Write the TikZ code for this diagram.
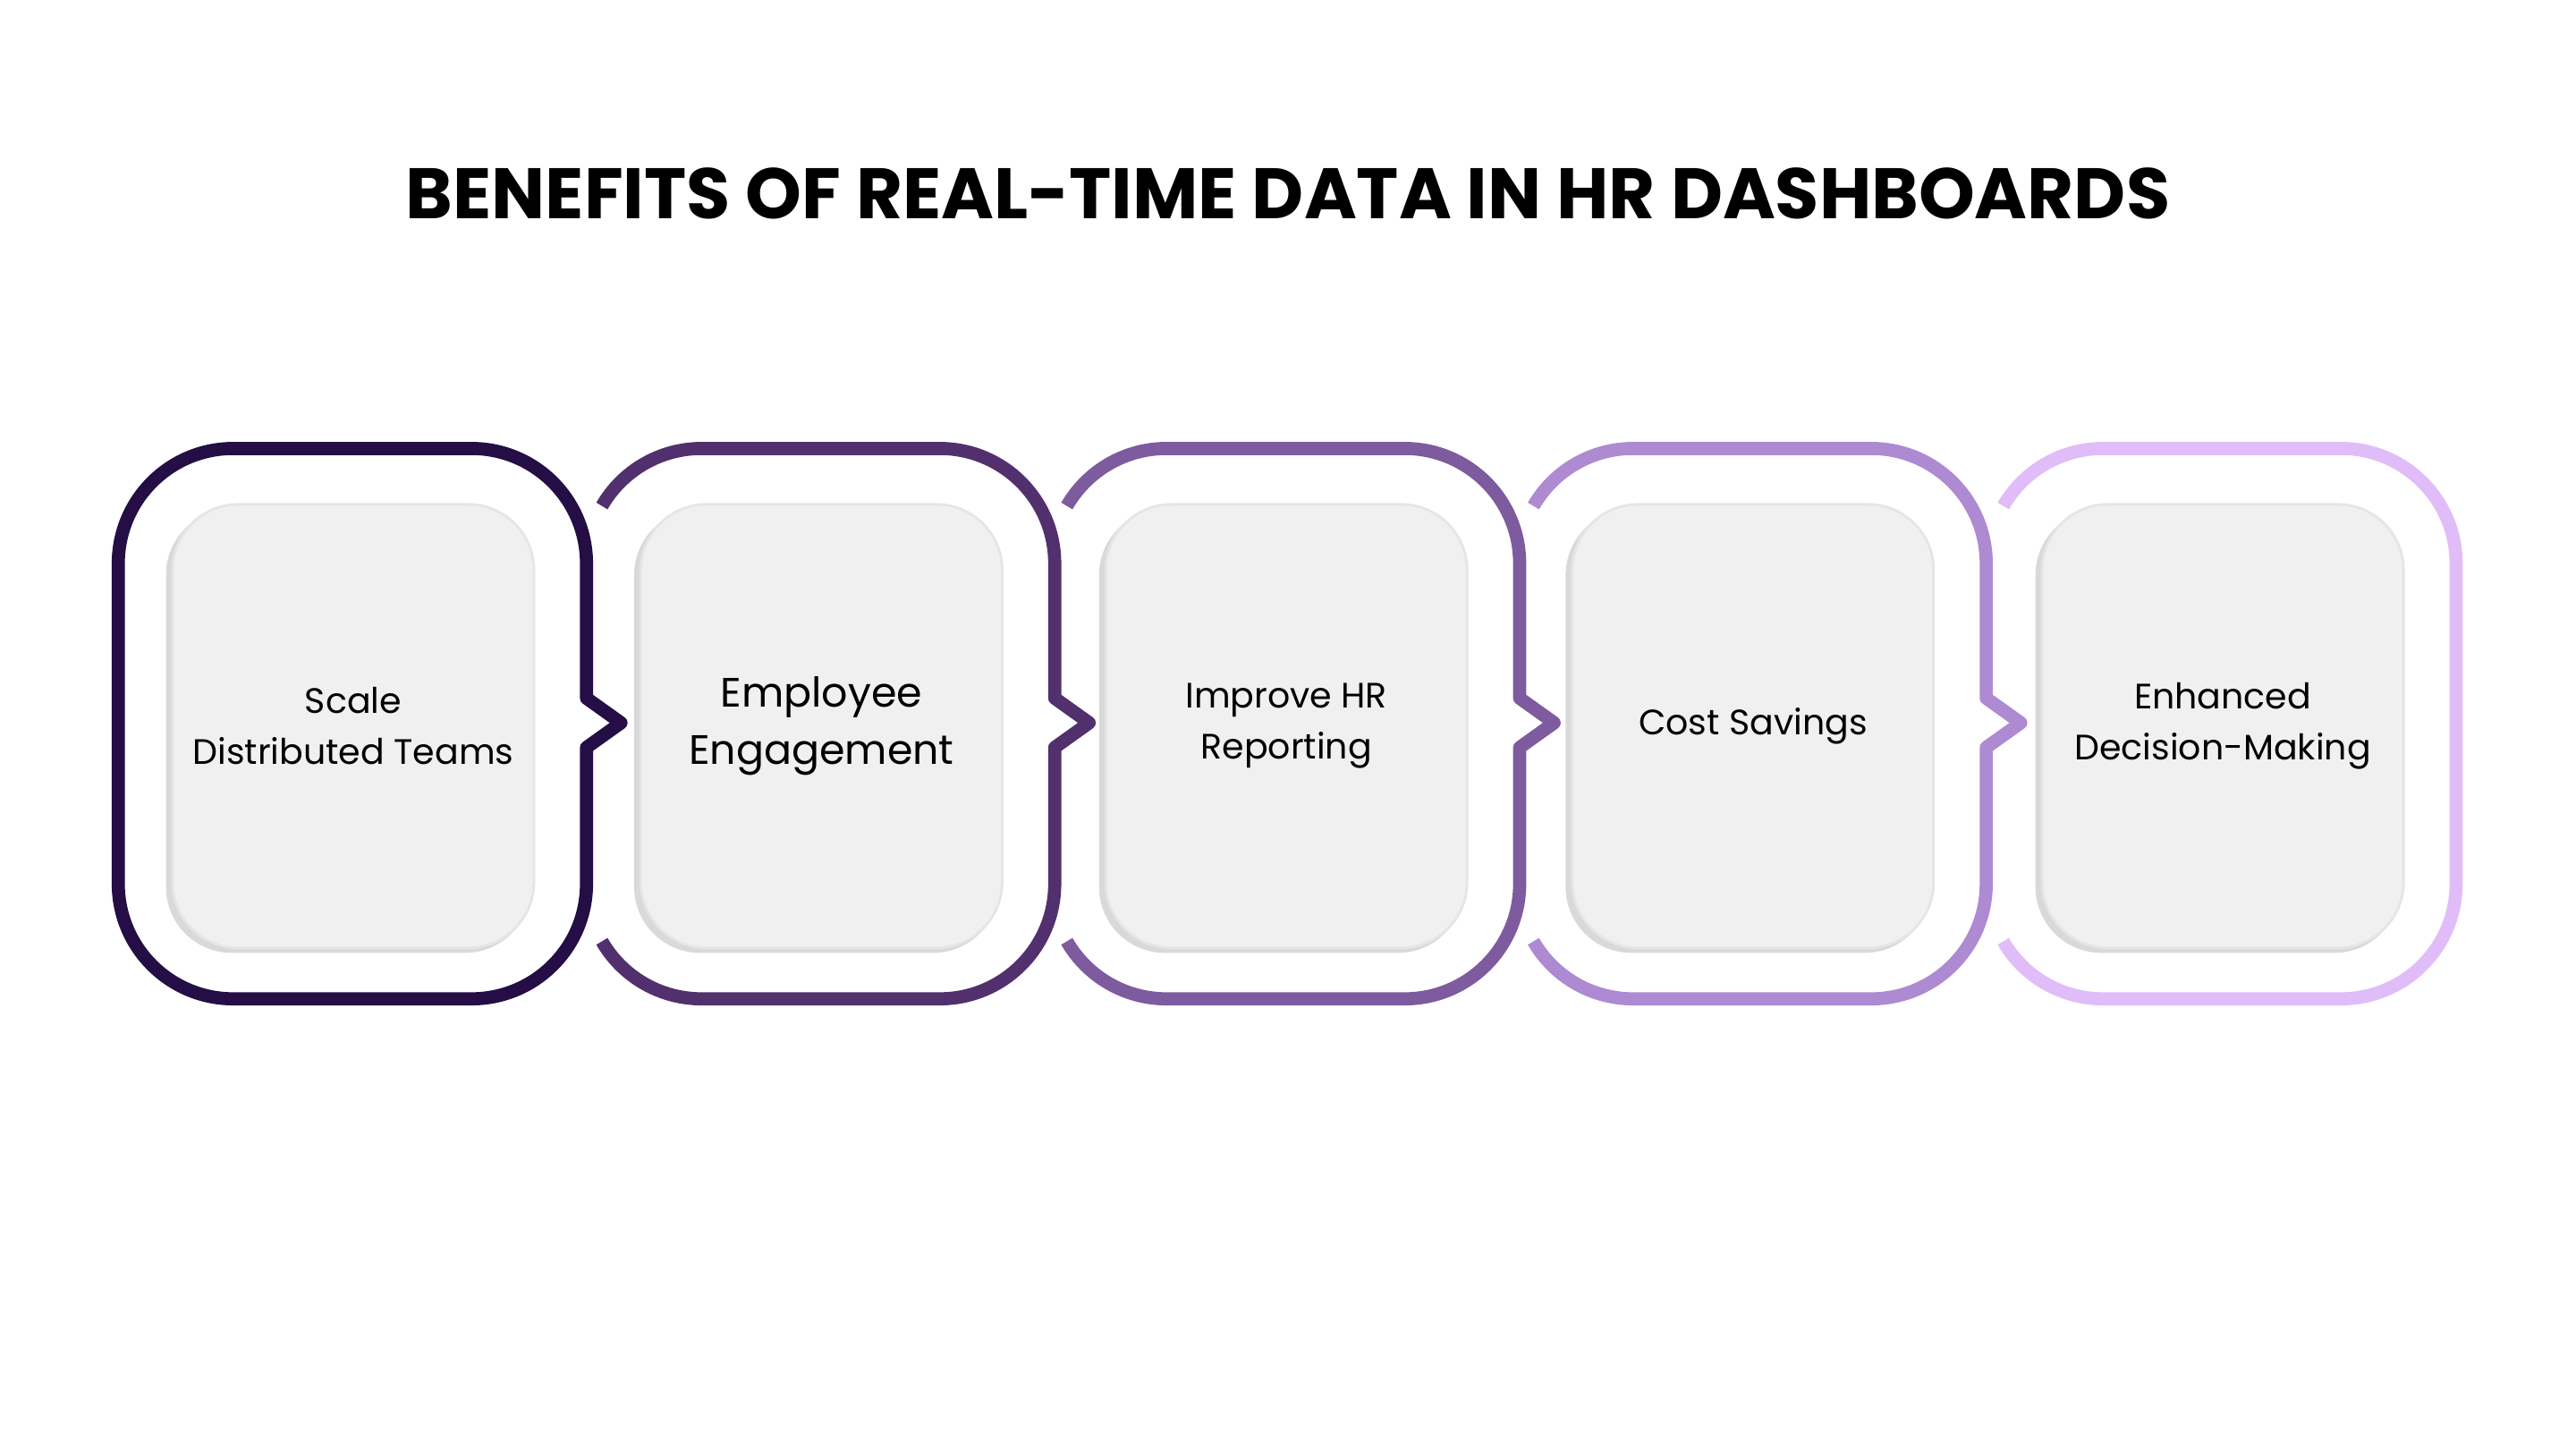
\documentclass[tikz,border=0pt]{standalone}
\usepackage{fontspec}
\setmainfont{Poppins}
\definecolor{c1}{HTML}{240E45}
\definecolor{c2}{HTML}{52306E}
\definecolor{c3}{HTML}{7E5A9E}
\definecolor{c4}{HTML}{AD8AD1}
\definecolor{c5}{HTML}{E0BDF9}
\definecolor{boxg}{HTML}{F0F0F0}
\begin{document}
\begin{tikzpicture}[x=1pt,y=1pt,
  frame/.style={line width=8pt,line join=round},
  inner/.style={fill=boxg,draw=black!10,line width=1.5pt,rounded corners=40pt},
  shad/.style={fill=black!15,rounded corners=40pt},
  lbl/.style={align=center,font=\fontsize{21.5}{31}\selectfont,text=black}]
\useasboundingbox (0,0) rectangle (1568,882);
\node[font=\fontsize{43.5}{48}\selectfont\bfseries] (title) at (784,764) {BENEFITS OF REAL-TIME DATA IN HR DASHBOARDS};
% frame 1
\draw[frame,c1] (72,539) arc[start angle=180,end angle=90,radius=70] -- (287,609) arc[start angle=90,end angle=0,radius=70] -- (357,457) -- (378,442) -- (357,427) -- (357,344) arc[start angle=0,end angle=-90,radius=70] -- (142,274) arc[start angle=270,end angle=180,radius=70] -- cycle;
\foreach \x/\c in {357/c2,640/c3,924/c4,1210/c5}{
  \pgfmathsetmacro{\xa}{\x+285}
  \draw[frame,\c] (\x+9.4,574) arc[start angle=150,end angle=90,radius=70] -- (\xa-70,609) arc[start angle=90,end angle=0,radius=70] -- (\xa,457)
   \ifnum\x<1200 -- (\xa+21,442) -- (\xa,427) \fi
   -- (\xa,344) arc[start angle=0,end angle=-90,radius=70] -- (\x+70,274) arc[start angle=270,end angle=210,radius=70];
}
\foreach \x/\n in {72/b1,357/b2,640/b3,924/b4,1210/b5}{
  \fill[shad] (\x+29,302) rectangle (\x+251,572);
  \path[inner] (\x+33,305) rectangle (\x+253,575);
  \coordinate (\n) at (\x+143,440);
}
\node[lbl] (t1) at (b1) {Scale\\Distributed Teams};
\node[lbl,font=\fontsize{25}{35}\selectfont] (t2) at (b2) {Employee\\Engagement};
\node[lbl] (t3) at (b3) {Improve HR\\Reporting};
\node[lbl] (t4) at (b4) {Cost Savings};
\node[lbl] (t5) at (b5) {Enhanced\\Decision-Making};
\end{tikzpicture}
\end{document}
